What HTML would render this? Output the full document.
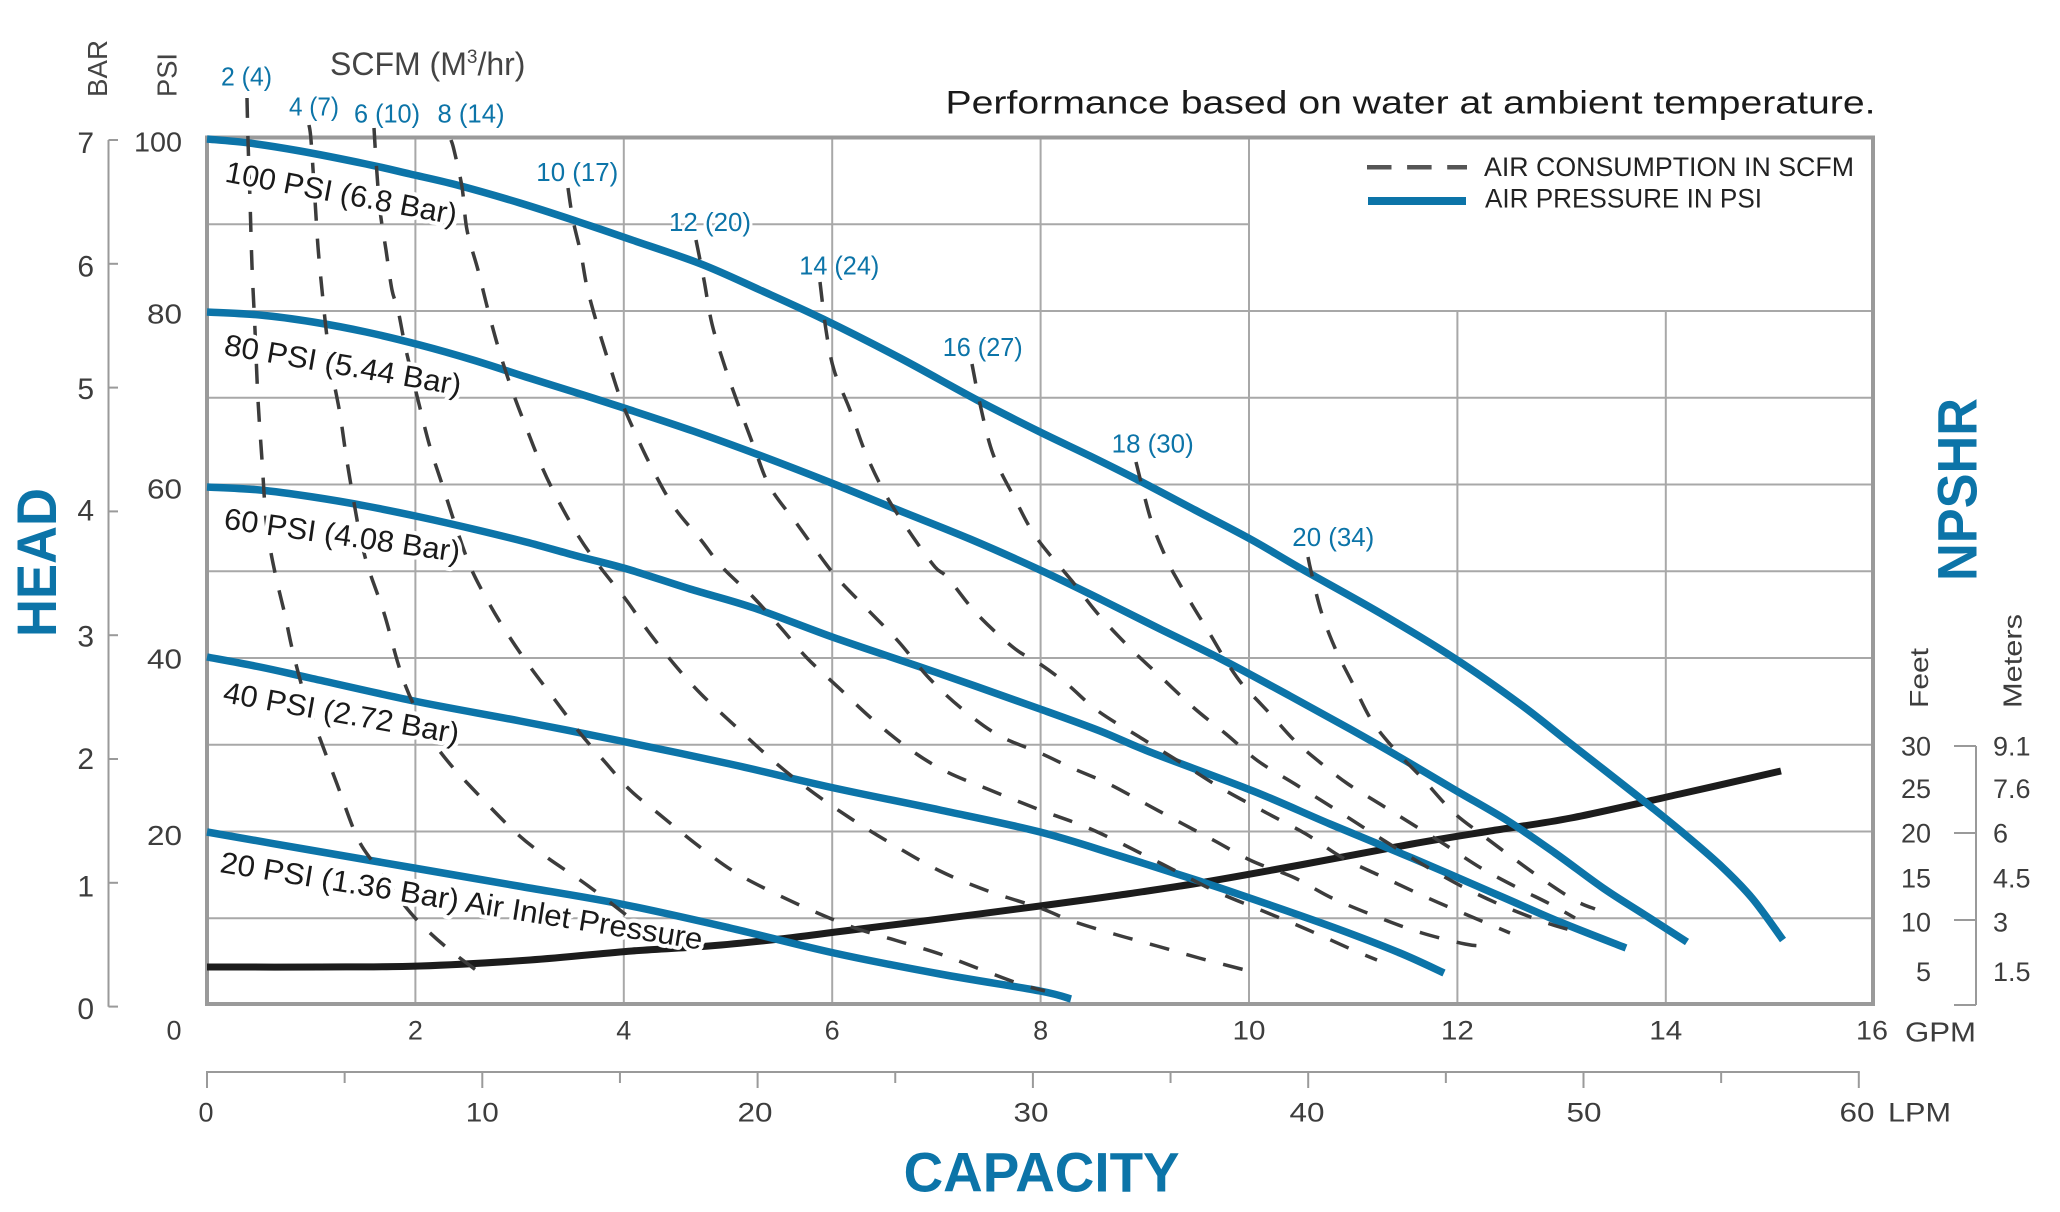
<!DOCTYPE html>
<html><head><meta charset="utf-8"><style>
html,body{margin:0;padding:0;background:#fff;}
svg{display:block;}
text{font-family:"Liberation Sans",Arial,sans-serif;}
</style></head><body>
<svg id="chart" width="2060" height="1212" viewBox="0 0 2060 1212" xmlns="http://www.w3.org/2000/svg">
<rect width="2060" height="1212" fill="#fff"/>

<!-- grid -->
<g stroke="#a8a8a8" stroke-width="2" fill="none">
<line x1="415.4" y1="137.5" x2="415.4" y2="1004"/>
<line x1="623.8" y1="137.5" x2="623.8" y2="1004"/>
<line x1="832.2" y1="137.5" x2="832.2" y2="1004"/>
<line x1="1040.6" y1="137.5" x2="1040.6" y2="1004"/>
<line x1="1249" y1="137.5" x2="1249" y2="1004"/>
<line x1="1457.4" y1="311" x2="1457.4" y2="1004"/>
<line x1="1665.8" y1="311" x2="1665.8" y2="1004"/>
<line x1="207" y1="918.25" x2="1873" y2="918.25"/>
<line x1="207" y1="831.5" x2="1873" y2="831.5"/>
<line x1="207" y1="744.75" x2="1873" y2="744.75"/>
<line x1="207" y1="658" x2="1873" y2="658"/>
<line x1="207" y1="571.25" x2="1873" y2="571.25"/>
<line x1="207" y1="484.5" x2="1873" y2="484.5"/>
<line x1="207" y1="397.75" x2="1873" y2="397.75"/>
<line x1="207" y1="311" x2="1873" y2="311"/>
<line x1="207" y1="224.25" x2="1249" y2="224.25"/>
</g>
<rect x="207" y="137.5" width="1666" height="866.5" fill="none" stroke="#9a9a9a" stroke-width="4"/>

<!-- BAR axis -->
<g stroke="#9a9a9a" stroke-width="2" fill="none">
<line x1="108.5" y1="140" x2="108.5" y2="1006.7"/>
<line x1="108.5" y1="140" x2="118" y2="140"/>
<line x1="108.5" y1="263.8" x2="118" y2="263.8"/>
<line x1="108.5" y1="387.6" x2="118" y2="387.6"/>
<line x1="108.5" y1="511.4" x2="118" y2="511.4"/>
<line x1="108.5" y1="635.2" x2="118" y2="635.2"/>
<line x1="108.5" y1="759" x2="118" y2="759"/>
<line x1="108.5" y1="882.8" x2="118" y2="882.8"/>
<line x1="108.5" y1="1006.6" x2="118" y2="1006.6"/>
<!-- NPSHR axis -->
<line x1="1976" y1="746" x2="1976" y2="1005"/>
<line x1="1954" y1="746" x2="1976" y2="746"/>
<line x1="1954" y1="833" x2="1976" y2="833"/>
<line x1="1954" y1="920" x2="1976" y2="920"/>
<line x1="1954" y1="1005" x2="1976" y2="1005"/>
<!-- LPM axis -->
<line x1="206" y1="1072" x2="1859.8" y2="1072"/>
<line x1="207" y1="1072" x2="207" y2="1088"/>
<line x1="482.3" y1="1072" x2="482.3" y2="1088"/>
<line x1="757.6" y1="1072" x2="757.6" y2="1088"/>
<line x1="1032.9" y1="1072" x2="1032.9" y2="1088"/>
<line x1="1308.2" y1="1072" x2="1308.2" y2="1088"/>
<line x1="1583.5" y1="1072" x2="1583.5" y2="1088"/>
<line x1="1858.8" y1="1072" x2="1858.8" y2="1088"/>
<line x1="344.65" y1="1072" x2="344.65" y2="1083"/>
<line x1="619.95" y1="1072" x2="619.95" y2="1083"/>
<line x1="895.25" y1="1072" x2="895.25" y2="1083"/>
<line x1="1170.55" y1="1072" x2="1170.55" y2="1083"/>
<line x1="1445.85" y1="1072" x2="1445.85" y2="1083"/>
<line x1="1721.15" y1="1072" x2="1721.15" y2="1083"/>
</g>

<!-- NPSHR black curve -->
<polyline class="s" fill="none" stroke="#1c1c1c" stroke-width="7" stroke-linejoin="round" points="207,967 320,967 420,966 530,960 632,951 709,946 780,939 844,931 940,919 1040,906 1120,895 1199,883 1300,865 1412,844 1490,831 1571,818 1680,794 1781,771"/>

<!-- blue pressure curves -->
<g fill="none" stroke="#0c74a8" stroke-width="7.5" stroke-linejoin="round">
<polyline class="s" points="207,139 249,143 300,151 366,164 410,174 457,185 520,203 579,222 632,240 701,264 760,290 823,319 900,358 977,400 1040,432 1090,456 1138,480 1195,510 1252,540 1300,568 1380,613 1454,658 1520,704 1571,744 1640,798 1682,832 1720,865 1752,898 1783,940"/>
<polyline class="s" points="207,312 260,315 313,322 366,332 420,345 473,360 526,377 577,393 627,409 693,431 759,455 834,484 898,510 970,539 1040,570 1100,599 1160,629 1221,659 1290,696 1350,729 1401,758 1455,790 1508,821 1555,853 1603,888 1645,915 1687,942"/>
<polyline class="s" points="207,487 260,490 313,497 366,506 420,517 473,529 526,542 577,556 627,569 690,589 754,608 835,638 935,672 1040,709 1100,731 1150,752 1253,791 1330,824 1412,858 1500,896 1560,922 1626,948"/>
<polyline class="s" points="207,657 260,667 310,678 414,701 520,721 621,741 730,764 834,788 940,810 1040,832 1120,856 1199,881 1270,905 1338,929 1400,953 1444,973"/>
<polyline class="s" points="207,832 310,850 414,868 518,886 621,904 730,928 834,953 940,974 1040,991 1071,999"/>
</g>

<!-- dashed air consumption curves -->
<g fill="none" stroke="#3c3c3c" stroke-width="3.5" stroke-dasharray="20 18">
<polyline class="s" points="247,98 248,140 250,200 252,266 255,330 258,400 262,460 266,520 271,553 278,586 285,615 292,648 303,690 314,722 322,744 337,784 357,837 375,865 395,893 417,920 446,947 484,976"/>
<polyline class="s" points="309,125 311,140 315,200 318,247 322,290 327,337 333,377 340,414 346,455 353,497 360,535 368,567 384,613 397,660 406,687 418,714 432,740 450,764 471,787 513,830 545,856 580,880 607,900 635,922"/>
<polyline class="s" points="374,128 376,160 380,210 386,250 392,290 398,310 406,350 419,404 430,447 443,487 457,530 470,566 485,596 505,630 528,664 555,700 580,733 605,762 630,790 659,814 696,844 733,871 770,891 813,911 855,928 898,941 940,954 977,968 1020,984 1045,991"/>
<polyline class="s" points="451,140 454,150 462,187 467,230 478,270 488,310 499,350 512,390 526,427 542,467 558,500 579,537 600,567 627,601 648,631 674,664 701,694 733,724 770,758 807,788 850,818 892,844 940,871 988,891 1040,908 1072,921 1114,934 1157,946 1199,958 1245,970"/>
<polyline class="s" points="568,188 573,220 581,254 587,287 597,324 608,360 621,400 637,437 653,470 674,507 701,540 722,567 754,598 781,628 807,658 839,688 871,718 908,748 945,771 990,790 1040,810 1093,830 1162,864 1215,891 1263,911 1306,929 1353,950 1377,960"/>
<polyline class="s" points="696,240 704,280 712,324 725,367 738,404 754,447 770,487 797,524 823,560 839,580 866,608 898,641 929,678 961,708 998,735 1040,753 1072,768 1109,784 1146,804 1183,824 1215,841 1252,861 1295,878 1332,898 1380,918 1422,933 1465,944 1484,946"/>
<polyline class="s" points="820,282 826,330 834,370 850,410 866,454 887,497 913,537 935,567 948,578 977,614 1014,648 1040,664 1067,684 1098,711 1141,738 1183,764 1221,788 1263,811 1306,834 1343,858 1385,878 1428,898 1465,914 1510,933"/>
<polyline class="s" points="972,364 980,404 993,454 1014,497 1036,537 1072,581 1098,614 1130,648 1162,678 1194,708 1226,734 1258,761 1295,784 1338,811 1380,838 1422,864 1465,888 1508,908 1550,924 1582,933"/>
<polyline class="s" points="1136,462 1151,520 1167,560 1178,581 1194,608 1210,634 1226,661 1242,684 1258,701 1274,718 1295,741 1322,764 1348,784 1380,804 1412,824 1444,844 1481,868 1518,888 1550,904 1575,918"/>
<polyline class="s" points="1308,557 1311,571 1321,611 1335,648 1353,684 1372,721 1396,751 1422,778 1452,811 1481,834 1513,858 1545,881 1576,901 1595,909"/>
</g>

<!-- curve labels -->
<g fill="#1a1a1a" font-size="30" stroke="#fff" stroke-width="8" stroke-linejoin="round" paint-order="stroke">
<text transform="translate(224,181.5) rotate(10.6)" textLength="235" lengthAdjust="spacingAndGlyphs">100 PSI (6.8 Bar)</text>
<text transform="translate(223,354.5) rotate(9.8)" textLength="240" lengthAdjust="spacingAndGlyphs">80 PSI (5.44 Bar)</text>
<text transform="translate(223,528.5) rotate(8.1)" textLength="238" lengthAdjust="spacingAndGlyphs">60 PSI (4.08 Bar)</text>
<text transform="translate(222,702) rotate(10.1)" textLength="239" lengthAdjust="spacingAndGlyphs">40 PSI (2.72 Bar)</text>
<text transform="translate(219,872) rotate(9.15)" textLength="488" lengthAdjust="spacingAndGlyphs">20 PSI (1.36 Bar) Air Inlet Pressure</text>
</g>

<!-- SCFM labels -->
<g fill="#0c74a8" font-size="25.5" stroke="#fff" stroke-width="6" stroke-linejoin="round" paint-order="stroke">
<text x="221" y="85.7" textLength="51" lengthAdjust="spacingAndGlyphs">2 (4)</text>
<text x="289" y="115.7" textLength="50" lengthAdjust="spacingAndGlyphs">4 (7)</text>
<text x="354" y="122.3" textLength="66" lengthAdjust="spacingAndGlyphs">6 (10)</text>
<text x="437.5" y="122.3" textLength="67" lengthAdjust="spacingAndGlyphs">8 (14)</text>
<text x="536.3" y="181" textLength="82" lengthAdjust="spacingAndGlyphs">10 (17)</text>
<text x="669" y="231" textLength="82" lengthAdjust="spacingAndGlyphs">12 (20)</text>
<text x="799.3" y="274.3" textLength="80" lengthAdjust="spacingAndGlyphs">14 (24)</text>
<text x="942.7" y="356" textLength="80" lengthAdjust="spacingAndGlyphs">16 (27)</text>
<text x="1111.7" y="452.7" textLength="82" lengthAdjust="spacingAndGlyphs">18 (30)</text>
<text x="1292.3" y="546" textLength="82" lengthAdjust="spacingAndGlyphs">20 (34)</text>
</g>

<!-- legend -->
<line x1="1367" y1="167.3" x2="1467" y2="167.3" stroke="#555" stroke-width="4.5" stroke-dasharray="24.5 15.6"/>
<line x1="1368" y1="201" x2="1466" y2="201" stroke="#0c74a8" stroke-width="8"/>
<text x="1484" y="176" font-size="27" fill="#222" textLength="370" lengthAdjust="spacingAndGlyphs">AIR CONSUMPTION IN SCFM</text>
<text x="1485" y="207.7" font-size="27" fill="#222" textLength="277" lengthAdjust="spacingAndGlyphs">AIR PRESSURE IN PSI</text>

<!-- title -->
<text x="945.5" y="113.3" font-size="32.5" fill="#1a1a1a" textLength="930" lengthAdjust="spacingAndGlyphs">Performance based on water at ambient temperature.</text>

<!-- SCFM header -->
<text x="330" y="75" font-size="32" fill="#444">SCFM (M<tspan font-size="19" dy="-12">3</tspan><tspan dy="12">/hr)</tspan></text>

<!-- axis unit labels -->
<text transform="translate(107,68.5) rotate(-90)" font-size="28" fill="#444" text-anchor="middle" textLength="57" lengthAdjust="spacingAndGlyphs">BAR</text>
<text transform="translate(176.3,75) rotate(-90)" font-size="28" fill="#444" text-anchor="middle" textLength="44" lengthAdjust="spacingAndGlyphs">PSI</text>

<!-- BAR tick labels -->
<g font-size="30" fill="#3d3d3d" text-anchor="end">
<text x="94" y="153.2">7</text>
<text x="94" y="276.5">6</text>
<text x="94" y="399">5</text>
<text x="94" y="520.7">4</text>
<text x="94" y="646.5">3</text>
<text x="94" y="769">2</text>
<text x="94" y="896.5">1</text>
<text x="94" y="1019">0</text>
</g>
<!-- PSI tick labels -->
<g font-size="28" fill="#3d3d3d" text-anchor="end">
<text x="182" y="151.7" textLength="48" lengthAdjust="spacingAndGlyphs">100</text>
<text x="182" y="323.3" textLength="35" lengthAdjust="spacingAndGlyphs">80</text>
<text x="182" y="498.3" textLength="35" lengthAdjust="spacingAndGlyphs">60</text>
<text x="182" y="668.3" textLength="35" lengthAdjust="spacingAndGlyphs">40</text>
<text x="182" y="845" textLength="35" lengthAdjust="spacingAndGlyphs">20</text>
</g>

<!-- GPM labels -->
<g font-size="27" fill="#3d3d3d" text-anchor="middle">
<text x="174" y="1039.7">0</text>
<text x="415.4" y="1039.7">2</text>
<text x="623.8" y="1039.7">4</text>
<text x="832.2" y="1039.7">6</text>
<text x="1040.6" y="1039.7">8</text>
<text x="1249" y="1039.7" textLength="33" lengthAdjust="spacingAndGlyphs">10</text>
<text x="1457.4" y="1039.7" textLength="33" lengthAdjust="spacingAndGlyphs">12</text>
<text x="1665.8" y="1039.7" textLength="33" lengthAdjust="spacingAndGlyphs">14</text>
<text x="1872" y="1039.7" textLength="32" lengthAdjust="spacingAndGlyphs">16</text>
</g>
<text x="1905" y="1041.5" font-size="28" fill="#3d3d3d" textLength="71" lengthAdjust="spacingAndGlyphs">GPM</text>

<!-- LPM labels -->
<g font-size="27" fill="#3d3d3d" text-anchor="middle">
<text x="206" y="1121.7">0</text>
<text x="482.3" y="1121.7" textLength="33" lengthAdjust="spacingAndGlyphs">10</text>
<text x="755" y="1121.7" textLength="35" lengthAdjust="spacingAndGlyphs">20</text>
<text x="1031" y="1121.7" textLength="35" lengthAdjust="spacingAndGlyphs">30</text>
<text x="1307" y="1121.7" textLength="35" lengthAdjust="spacingAndGlyphs">40</text>
<text x="1584" y="1121.7" textLength="35" lengthAdjust="spacingAndGlyphs">50</text>
<text x="1857" y="1121.7" textLength="35" lengthAdjust="spacingAndGlyphs">60</text>
</g>
<text x="1888" y="1121.7" font-size="27" fill="#3d3d3d" textLength="63" lengthAdjust="spacingAndGlyphs">LPM</text>

<!-- NPSHR scale -->
<g font-size="27" fill="#3d3d3d" text-anchor="end">
<text x="1931" y="755.7">30</text>
<text x="1931" y="798.2">25</text>
<text x="1931" y="842.7">20</text>
<text x="1931" y="887.7">15</text>
<text x="1931" y="931.7">10</text>
<text x="1931" y="981.2">5</text>
</g>
<g font-size="27" fill="#3d3d3d">
<text x="1993" y="755.7">9.1</text>
<text x="1993" y="798.2">7.6</text>
<text x="1993" y="842.7">6</text>
<text x="1993" y="887.7">4.5</text>
<text x="1993" y="931.7">3</text>
<text x="1993" y="981.2">1.5</text>
</g>
<text transform="translate(1928,678) rotate(-90)" font-size="26" fill="#3d3d3d" text-anchor="middle" textLength="60" lengthAdjust="spacingAndGlyphs">Feet</text>
<text transform="translate(2021.7,661) rotate(-90)" font-size="26" fill="#3d3d3d" text-anchor="middle" textLength="94" lengthAdjust="spacingAndGlyphs">Meters</text>

<!-- big axis titles -->
<text transform="translate(1976.7,489.5) rotate(-90)" font-size="56" font-weight="bold" fill="#0c74a8" text-anchor="middle" textLength="183" lengthAdjust="spacingAndGlyphs">NPSHR</text>
<text transform="translate(55.8,562.5) rotate(-90)" font-size="56" font-weight="bold" fill="#0c74a8" text-anchor="middle" textLength="149" lengthAdjust="spacingAndGlyphs">HEAD</text>
<text x="1041.6" y="1191.7" font-size="56" font-weight="bold" fill="#0c74a8" text-anchor="middle" textLength="276" lengthAdjust="spacingAndGlyphs">CAPACITY</text>
</svg>
<script>
(function(){
  var ns='http://www.w3.org/2000/svg';
  var list=document.querySelectorAll('polyline.s');
  for(var k=0;k<list.length;k++){
    var pl=list[k];
    var raw=pl.getAttribute('points').trim().split(/\s+/);
    var pts=[];
    for(var j=0;j<raw.length;j++){var a=raw[j].split(',');pts.push([+a[0],+a[1]]);}
    var d='M'+pts[0][0]+','+pts[0][1];
    for(var i=0;i<pts.length-1;i++){
      var p0=pts[i-1]||pts[i],p1=pts[i],p2=pts[i+1],p3=pts[i+2]||pts[i+1];
      var c1x=p1[0]+(p2[0]-p0[0])/6,c1y=p1[1]+(p2[1]-p0[1])/6;
      var c2x=p2[0]-(p3[0]-p1[0])/6,c2y=p2[1]-(p3[1]-p1[1])/6;
      d+=' C'+c1x.toFixed(2)+','+c1y.toFixed(2)+' '+c2x.toFixed(2)+','+c2y.toFixed(2)+' '+p2[0]+','+p2[1];
    }
    var path=document.createElementNS(ns,'path');
    for(var m=0;m<pl.attributes.length;m++){
      var at=pl.attributes[m];
      if(at.name!=='points'&&at.name!=='class'){path.setAttribute(at.name,at.value);}
    }
    path.setAttribute('d',d);
    pl.parentNode.replaceChild(path,pl);
  }
})();
</script>
</body></html>
